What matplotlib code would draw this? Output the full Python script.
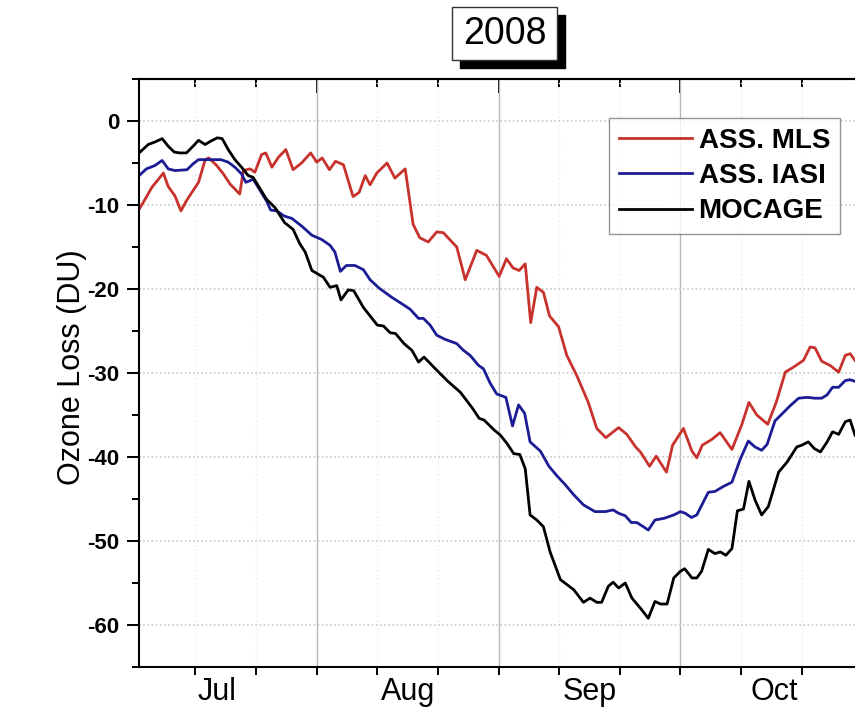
import matplotlib
matplotlib.use("Agg")
import matplotlib.pyplot as plt
from matplotlib.patches import Rectangle
from matplotlib.ticker import MultipleLocator

plt.rcParams['font.family'] = ['Liberation Sans', 'DejaVu Sans']
plt.rcParams['axes.unicode_minus'] = False

# Days since 1 July 2008 and ozone loss (DU) for each run
mls_days = [0.7, 1.7, 2.8, 3.7, 4.7, 5.5, 6.6, 7.6, 8.5, 9.4,
            10.5, 11.6, 12.2, 13.5, 14.6, 15.7, 16.5, 17.3, 17.9, 19.0,
            19.8, 20.9, 21.6, 22.6, 23.7, 24.9, 26.1, 27.5, 29.0, 30.0,
            30.9, 32.1, 33.1, 34.4, 36.0, 37.0, 38.0, 38.8, 39.9, 41.6,
            42.9, 44.6, 45.9, 47.0, 48.4, 49.8, 50.9, 52.3, 53.1, 54.5,
            56.4, 58.0, 60.1, 61.3, 62.4, 63.4, 64.4, 65.3, 66.3, 67.4,
            68.4, 69.9, 71.25, 72.9, 74.8, 76.2, 77.7, 79.8, 81.15, 82.6,
            83.4, 84.9, 86.0, 87.7, 88.7, 90.5, 91.9, 92.7, 93.6, 95.2,
            96.55, 98.5, 100.1, 101.3, 102.6, 104.4, 105.8, 107.3, 108.65, 110.3,
            111.4, 112.2, 113.3, 114.7, 116.1, 117.2, 118.0, 118.8]
mls_loss = [-10.5, -9.3, -7.9, -7.1, -6.2, -7.8, -8.9, -10.7, -9.5, -8.5,
            -7.3, -4.6, -4.4, -5.3, -6.3, -7.5, -8.1, -8.7, -5.9, -5.7,
            -6.1, -4.0, -3.8, -5.5, -4.3, -3.4, -5.8, -5.0, -3.8, -4.9,
            -4.4, -5.8, -4.8, -5.2, -9.0, -8.5, -6.5, -7.6, -6.2, -5.0,
            -6.8, -5.7, -12.3, -13.9, -14.4, -13.2, -13.3, -14.4, -15.0, -18.9,
            -15.4, -16.0, -18.5, -16.4, -17.5, -17.8, -17.0, -24.0, -19.8, -20.4,
            -23.2, -24.5, -27.9, -30.3, -33.5, -36.6, -37.7, -36.5, -37.3, -38.8,
            -39.4, -41.1, -39.9, -41.8, -38.6, -36.6, -39.3, -40.1, -38.6, -37.9,
            -37.1, -39.1, -36.2, -33.5, -35.0, -36.1, -33.5, -29.9, -29.3, -28.5,
            -26.9, -27.0, -28.6, -29.1, -29.9, -27.9, -27.7, -28.5]

iasi_days = [0.7, 1.9, 3.3, 4.5, 5.5, 6.6, 8.6, 9.6, 10.5, 14.2,
             15.4, 16.5, 17.6, 18.3, 19.0, 19.5, 20.6, 21.7, 22.4, 23.4,
             24.6, 25.9, 27.5, 29.2, 30.8, 32.2, 33.0, 33.9, 34.9, 36.3,
             37.7, 38.8, 40.3, 42.4, 43.7, 45.4, 46.8, 47.6, 48.7, 49.8,
             51.2, 53.1, 54.2, 55.3, 56.7, 57.5, 58.6, 59.7, 61.2, 62.3,
             63.3, 64.3, 65.2, 66.9, 68.3, 69.7, 71.0, 72.4, 74.0, 75.9,
             77.6, 78.9, 79.8, 80.9, 81.9, 82.8, 83.9, 84.7, 85.8, 87.3,
             88.9, 90.0, 90.8, 91.8, 92.7, 94.6, 95.7, 97.1, 98.5, 99.9,
             101.2, 102.3, 103.4, 104.3, 105.6, 107.0, 108.1, 109.5, 110.9, 112.2,
             113.3, 114.2, 115.1, 116.1, 117.2, 118.0, 118.8]
iasi_loss = [-6.5, -5.7, -5.3, -4.7, -5.7, -5.9, -5.8, -5.1, -4.6, -4.6,
             -4.9, -5.5, -6.3, -7.3, -7.1, -6.9, -8.2, -9.5, -10.6, -10.7,
             -11.3, -11.6, -12.5, -13.6, -14.1, -14.8, -15.6, -17.9, -17.2, -17.2,
             -17.7, -18.9, -19.9, -21.0, -21.6, -22.4, -23.5, -23.5, -24.3, -25.5,
             -26.0, -26.5, -27.3, -27.9, -29.1, -29.5, -31.2, -32.5, -32.9, -36.3,
             -33.8, -34.8, -38.2, -39.3, -41.1, -42.3, -43.3, -44.5, -45.7, -46.5,
             -46.5, -46.3, -46.7, -47.0, -47.8, -47.8, -48.3, -48.7, -47.5, -47.3,
             -46.9, -46.5, -46.7, -47.2, -46.9, -44.2, -44.1, -43.5, -43.0, -40.2,
             -38.1, -38.8, -39.2, -38.5, -35.7, -34.7, -33.9, -33.0, -32.9, -33.0,
             -33.0, -32.6, -31.7, -31.7, -30.9, -30.8, -31.0]

mocage_days = [0.7, 2.2, 3.3, 4.5, 5.5, 6.5, 7.4, 8.5, 9.6, 10.5,
               11.6, 12.5, 13.6, 14.4, 15.4, 16.5, 17.6, 18.7, 19.5, 20.6,
               21.7, 23.1, 24.7, 26.1, 27.2, 28.1, 29.2, 31.1, 32.2, 33.3,
               34.0, 35.2, 36.1, 37.7, 40.0, 41.0, 42.1, 43.0, 44.4, 45.7,
               46.8, 47.7, 49.3, 51.5, 53.7, 55.7, 56.8, 57.6, 59.3, 60.3,
               61.4, 62.5, 63.5, 64.4, 65.2, 66.3, 67.4, 68.5, 70.2, 71.3,
               72.4, 74.0, 75.1, 76.2, 77.0, 78.1, 78.9, 79.8, 80.9, 82.0,
               83.4, 84.7, 85.8, 86.7, 87.8, 88.9, 90.0, 90.7, 91.9, 92.7,
               93.5, 94.6, 95.7, 96.6, 97.5, 98.5, 99.4, 100.4, 101.3, 102.3,
               103.4, 104.5, 106.2, 107.6, 109.2, 110.0, 111.1, 112.1, 113.1, 114.2,
               115.1, 116.1, 117.2, 118.0, 118.8]
mocage_loss = [-3.8, -2.8, -2.5, -2.1, -3.0, -3.7, -3.8, -3.8, -3.0, -2.3,
               -2.8, -2.4, -2.0, -2.1, -3.4, -4.6, -5.5, -6.5, -6.7, -8.0,
               -9.3, -10.3, -12.1, -12.9, -14.6, -15.6, -17.8, -18.6, -19.8, -19.6,
               -21.3, -20.1, -20.2, -22.2, -24.3, -24.4, -25.2, -25.3, -26.5, -27.3,
               -28.7, -28.1, -29.3, -30.9, -32.3, -34.2, -35.4, -35.6, -36.8, -37.4,
               -38.4, -39.6, -39.7, -41.4, -46.9, -47.5, -48.3, -51.3, -54.6, -55.2,
               -55.8, -57.3, -56.8, -57.3, -57.3, -55.4, -54.9, -55.6, -55.0, -56.8,
               -58.0, -59.2, -57.2, -57.5, -57.5, -54.4, -53.6, -53.3, -54.4, -54.4,
               -53.6, -51.0, -51.5, -51.3, -51.7, -50.9, -46.4, -46.2, -42.9, -45.1,
               -46.9, -45.9, -41.8, -40.6, -38.8, -38.6, -38.2, -39.0, -39.4, -38.2,
               -37.0, -37.3, -35.8, -35.6, -37.4]

month_names = ["Jul", "Aug", "Sep", "Oct"]
month_centres = [13.5, 45.0, 75.0, 105.5]

W, H = 855, 715
fig = plt.figure(figsize=(W / 100, H / 100), dpi=100)
ax = fig.add_axes([139 / W, 1 - 667 / H, (W - 139) / W, (667 - 79) / H])

ax.set_xlim(0.68, 118.8)
ax.set_ylim(-65, 5)

# x ticks: every 10 days, heavier at every 30 days
ax.xaxis.set_major_locator(MultipleLocator(30))
ax.xaxis.set_minor_locator(MultipleLocator(10))
ax.xaxis.set_ticklabels([])
ax.tick_params(axis='x', which='both', direction='out', length=6, width=1.4,
               labelbottom=False)
ax.yaxis.set_major_locator(MultipleLocator(10))
ax.yaxis.set_minor_locator(MultipleLocator(5))
ax.tick_params(axis='y', which='major', direction='out', length=9, width=1.4,
               labelsize=16, pad=5)
ax.tick_params(axis='y', which='minor', direction='out', length=5, width=1.4)
for lab in ax.get_yticklabels():
    lab.set_fontweight('bold')

ax.grid(which='major', axis='x', color='#b8b8b8', lw=1.0, ls='-', zorder=0)
ax.grid(which='minor', axis='x', color='#ebebeb', lw=1.0, ls=(0, (1, 2)), zorder=0)
ax.grid(which='major', axis='y', color='#d0d0d0', lw=1.3, ls=(0, (1, 1.3)), zorder=0)
ax.set_axisbelow(True)

for side in ('left', 'bottom', 'top'):
    ax.spines[side].set_linewidth(1.5)
ax.spines['right'].set_visible(False)

# inward ticks along the top edge
top = ax.secondary_xaxis('top')
top.xaxis.set_major_locator(MultipleLocator(30))
top.xaxis.set_minor_locator(MultipleLocator(10))
top.tick_params(axis='x', which='major', direction='in', length=10, width=1.4,
                labeltop=False)
top.tick_params(axis='x', which='minor', direction='in', length=6, width=1.4)
top.spines['top'].set_linewidth(1.5)

# month names under the axis
months = ax.secondary_xaxis('bottom')
months.set_xticks(month_centres, month_names)
months.tick_params(axis='x', length=0, labelsize=22, pad=7)
months.spines['bottom'].set_visible(False)

ax.plot(mls_days, mls_loss, color='#c8322d', lw=2.0, label='ASS. MLS')
ax.plot(iasi_days, iasi_loss, color='#1c1c94', lw=2.0, label='ASS. IASI')
ax.plot(mocage_days, mocage_loss, color='black', lw=2.0, label='MOCAGE')

ax.set_ylabel('Ozone Loss (DU)', fontsize=22)
ax.yaxis.set_label_coords(-0.073, 0.51)

leg = ax.legend(loc='upper right',
                bbox_to_anchor=((840 - 139) / 716, (667 - 118) / 588),
                prop={'weight': 'bold', 'size': 20}, frameon=True, fancybox=False,
                handlelength=2.6, handletextpad=0.25, borderpad=0.36,
                labelspacing=0.33, borderaxespad=0)
leg.get_frame().set_edgecolor('#7a7a7a')
leg.get_frame().set_linewidth(1.0)

# year box with a drop shadow
bx, by, bw, bh = 452, 7, 105, 53
fig.patches.append(Rectangle(((bx + 8) / W, 1 - (by + bh + 8) / H), bw / W, bh / H,
                             transform=fig.transFigure, facecolor='black',
                             edgecolor='black', zorder=1))
fig.patches.append(Rectangle((bx / W, 1 - (by + bh) / H), bw / W, bh / H,
                             transform=fig.transFigure, facecolor='white',
                             edgecolor='#333333', lw=1.0, zorder=2))
fig.text((bx + bw / 2) / W, 1 - (by + bh / 2) / H, '2008', fontsize=27,
         ha='center', va='center', zorder=3)

fig.savefig('out.png', dpi=100)
